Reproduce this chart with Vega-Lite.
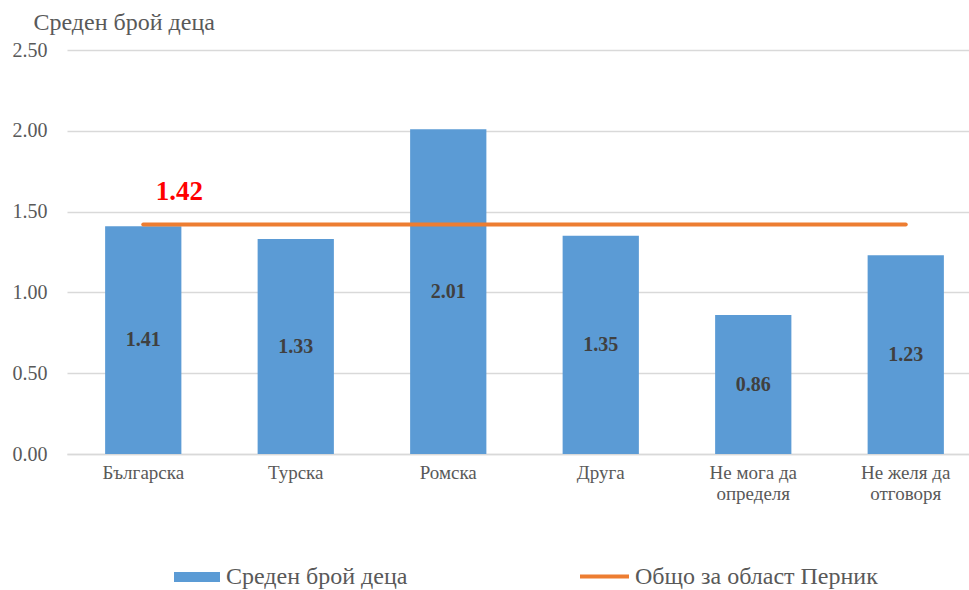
{
  "$schema": "https://vega.github.io/schema/vega-lite/v6.json",
  "autosize": "none",
  "width": 915,
  "height": 404,
  "padding": {"left": 67, "top": 50, "right": 0, "bottom": 136},
  "background": "white",
  "config": {"font": "Liberation Serif, Times New Roman, serif", "view": {"stroke": null}},
  "data": {
    "values": [
      {"group": "Българска", "value": 1.41, "total": 1.42},
      {"group": "Турска", "value": 1.33, "total": 1.42},
      {"group": "Ромска", "value": 2.01, "total": 1.42},
      {"group": "Друга", "value": 1.35, "total": 1.42},
      {"group": "Не мога да определя", "value": 0.86, "total": 1.42},
      {"group": "Не желя да отговоря", "value": 1.23, "total": 1.42}
    ]
  },
  "encoding": {
    "x": {
      "field": "group",
      "type": "nominal",
      "sort": null,
      "scale": {"paddingInner": 0.5, "paddingOuter": 0.25},
      "axis": {
        "title": null,
        "labelAngle": 0,
        "labelFontSize": 19,
        "labelColor": "#595959",
        "labelPadding": 9,
        "labelBaseline": "top",
        "labelLineHeight": 21,
        "ticks": false,
        "domainColor": "#D9D9D9",
        "domainWidth": 1.5,
        "labelExpr": "datum.label == 'Не мога да определя' ? ['Не мога да', 'определя'] : datum.label == 'Не желя да отговоря' ? ['Не желя да', 'отговоря'] : datum.label"
      }
    }
  },
  "layer": [
    {
      "mark": {"type": "bar"},
      "encoding": {
        "y": {
          "field": "value",
          "type": "quantitative",
          "scale": {"domain": [0, 2.5], "nice": false},
          "axis": {
            "title": "Среден брой деца",
            "titleAngle": 0,
            "titleAlign": "left",
            "titleBaseline": "middle",
            "titleX": -34,
            "titleY": -28,
            "titleFontSize": 24,
            "titleFontWeight": "normal",
            "titleColor": "#595959",
            "format": ".2f",
            "values": [0, 0.5, 1, 1.5, 2, 2.5],
            "labelFontSize": 20,
            "labelColor": "#595959",
            "labelPadding": 20,
            "ticks": false,
            "domain": false,
            "gridColor": "#D9D9D9",
            "gridWidth": 1.5
          }
        },
        "fill": {
          "datum": "Среден брой деца",
          "type": "nominal",
          "scale": {"range": ["#5B9BD5"]},
          "legend": {
            "title": null,
            "orient": "none",
            "legendX": 107,
            "legendY": 504,
            "symbolType": "M-1,-0.22H1V0.22H-1Z",
            "symbolSize": 2116,
            "symbolStrokeWidth": 0,
            "labelFontSize": 24,
            "labelColor": "#595959",
            "labelOffset": 6,
            "labelLimit": 400
          }
        }
      }
    },
    {
      "transform": [{"calculate": "datum.value / 2", "as": "mid"}],
      "mark": {"type": "text", "fontWeight": "bold", "fontSize": 20, "color": "#404040", "baseline": "middle"},
      "encoding": {
        "y": {"field": "mid", "type": "quantitative", "scale": {"domain": [0, 2.5], "nice": false}},
        "text": {"field": "value", "type": "quantitative", "format": ".2f"}
      }
    },
    {
      "mark": {"type": "line", "strokeWidth": 4, "strokeCap": "round"},
      "encoding": {
        "y": {"field": "total", "type": "quantitative", "scale": {"domain": [0, 2.5], "nice": false}},
        "stroke": {
          "datum": "Общо за област Перник",
          "type": "nominal",
          "scale": {"range": ["#ED7D31"]},
          "legend": {
            "title": null,
            "orient": "none",
            "legendX": 511,
            "legendY": 500,
            "symbolType": "stroke",
            "symbolSize": 2401,
            "symbolStrokeWidth": 4,
            "labelFontSize": 24,
            "labelColor": "#595959",
            "labelOffset": 4,
            "labelLimit": 400
          }
        }
      }
    },
    {
      "transform": [{"filter": "datum.group == 'Българска'"}],
      "mark": {"type": "text", "fontWeight": "bold", "fontSize": 27, "color": "#FF0000", "baseline": "middle", "dx": 36, "dy": -33},
      "encoding": {
        "y": {"field": "total", "type": "quantitative", "scale": {"domain": [0, 2.5], "nice": false}},
        "text": {"field": "total", "type": "quantitative", "format": ".2f"}
      }
    }
  ]
}
